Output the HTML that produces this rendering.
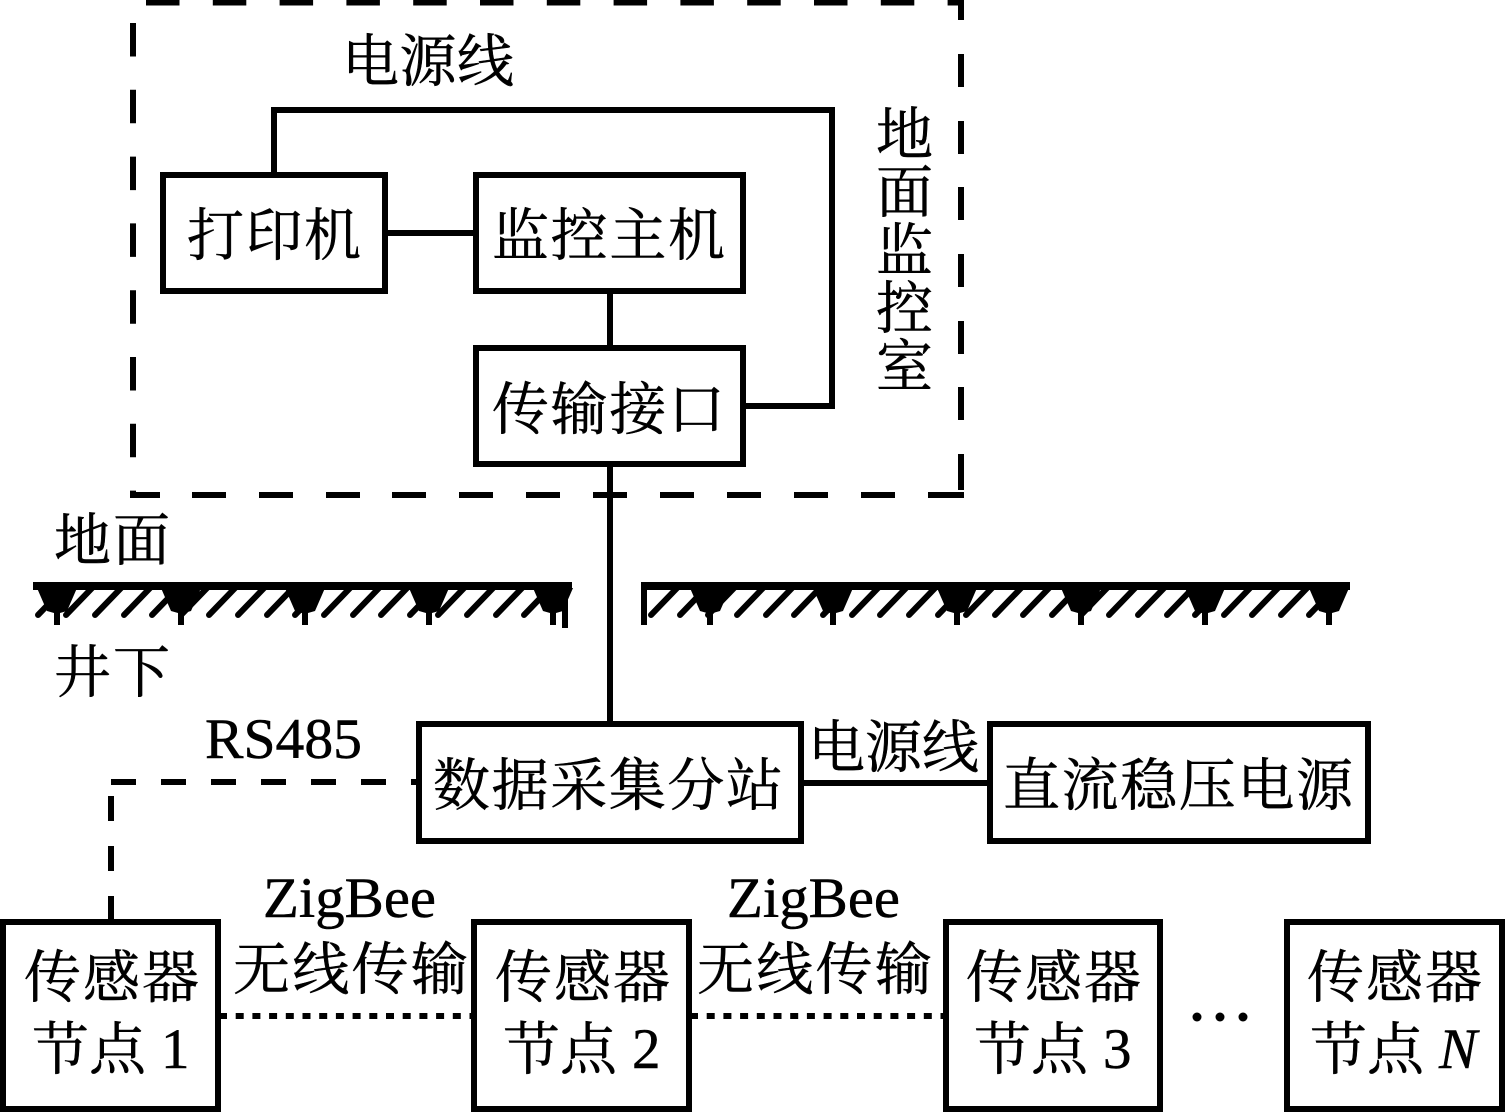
<!DOCTYPE html>
<html><head><meta charset="utf-8"><style>
html,body{margin:0;padding:0;background:#fff}
svg{display:block}
text{font-family:"Liberation Serif","Noto Serif CJK SC",serif;fill:#000;stroke:#000;stroke-width:.5;font-size:57px}
.l{fill:none;stroke:#000;stroke-width:6}
.b{fill:#fff;stroke:#000;stroke-width:6}
.h{stroke:#000;stroke-width:6;stroke-linecap:round}
</style></head><body>
<svg width="1505" height="1114" viewBox="0 0 1505 1114" xmlns="http://www.w3.org/2000/svg">
<!-- dashed room -->
<path class="l" d="M146 2.5H961" stroke-dasharray="33.5 33.3"/>
<path class="l" d="M133 23V492" stroke-dasharray="33.5 33.3"/>
<path class="l" d="M961 0V20M961 54V87M961 121V154M961 187V220M961 254V287M961 321V354M961 387V420M961 454V490"/>
<path class="l" d="M130 495H160M192 495H226M259 495H293M326 495H360M392 495H426M459 495H493M526 495H560M593 495H627M660 495H694M727 495H761M794 495H828M861 495H895M928 495H964"/>
<!-- connectors -->
<path class="l" d="M274 173V110H832V406H744"/>
<path class="l" d="M386 233H475M610 292V347M610 465V723M802 783H989"/>
<path class="l" d="M111 782H136M161 782H186M211 782H236M261 782H286M311 782H336M361 782H386M411 782H418"/>
<path class="l" d="M111 796V821M111 846V871M111 896V921"/>
<path class="l" d="M219 1016H473" stroke-dasharray="8 8.7"/>
<path class="l" d="M690 1016H945" stroke-dasharray="8 8.7"/>
<!-- boxes -->
<rect class="b" x="163" y="175" width="222" height="116"/>
<rect class="b" x="476" y="175" width="267" height="116"/>
<rect class="b" x="476" y="348" width="267" height="116"/>
<rect class="b" x="419" y="724" width="382" height="117"/>
<rect class="b" x="990" y="724" width="378" height="117"/>
<rect class="b" x="3" y="922" width="215" height="187"/>
<rect class="b" x="474" y="922" width="215" height="187"/>
<rect class="b" x="946" y="922" width="214" height="187"/>
<rect class="b" x="1287" y="922" width="215" height="187"/>
<!-- ground -->
<path d="M33 582H572V590H33Z"/>
<path d="M562 590h6v38h-6z"/>
<path d="M641 582H1350V590H641Z"/>
<path d="M641 590h6v35h-6z"/>
<g class="h">
<path d="M38 615L66 586M66 615L94 586M95 615L123 586M124 615L152 586M152 615L180 586M181 615L209 586M209 615L237 586M238 615L266 586M267 615L295 586M295 615L323 586M324 615L352 586M353 615L381 586M381 615L409 586M410 615L438 586M438 615L466 586M467 615L495 586M496 615L524 586M524 615L552 586"/>
<path d="M651 615L679 586M680 615L708 586M708 615L736 586M737 615L765 586M766 615L794 586M794 615L822 586M823 615L851 586M852 615L880 586M880 615L908 586M909 615L937 586M938 615L966 586M966 615L994 586M995 615L1023 586M1023 615L1051 586M1052 615L1080 586M1081 615L1109 586M1109 615L1137 586M1138 615L1166 586M1167 615L1195 586M1195 615L1223 586M1224 615L1252 586M1252 615L1280 586M1281 615L1309 586M1309 615L1337 586"/>
</g>
<g>
<path d="M37 588H77L67 611L60 613V625H54V613L47 611Z"/>
<path d="M161 588H201L191 611L184 613V625H178V613L171 611Z"/>
<path d="M285 588H325L315 611L308 613V625H302V613L295 611Z"/>
<path d="M409 588H449L439 611L432 613V625H426V613L419 611Z"/>
<path d="M533 588H573L563 611L556 613V625H550V613L543 611Z"/>
<path d="M690 588H730L720 611L713 613V625H707V613L700 611Z"/>
<path d="M813 588H853L843 611L836 613V625H830V613L823 611Z"/>
<path d="M937 588H977L967 611L960 613V625H954V613L947 611Z"/>
<path d="M1061 588H1101L1091 611L1084 613V625H1078V613L1071 611Z"/>
<path d="M1185 588H1225L1215 611L1208 613V625H1202V613L1195 611Z"/>
<path d="M1309 588H1349L1339 611L1332 613V625H1326V613L1319 611Z"/>
</g>
<!-- labels -->
<text x="342" y="81" textLength="172">电源线</text>
<text x="187" y="255" textLength="174">打印机</text>
<text x="492" y="255" textLength="233">监控主机</text>
<text x="492" y="429" textLength="233">传输接口</text>
<text x="876" y="154">地</text>
<text x="876" y="212">面</text>
<text x="876" y="270">监</text>
<text x="876" y="328">控</text>
<text x="876" y="386">室</text>
<text x="54" y="560" textLength="116">地面</text>
<text x="54" y="692" textLength="116">井下</text>
<text x="205" y="758" textLength="157" lengthAdjust="spacingAndGlyphs">RS485</text>
<text x="433" y="805" textLength="350">数据采集分站</text>
<text x="808" y="767" textLength="171">电源线</text>
<text x="1003" y="805" textLength="350">直流稳压电源</text>
<text x="263" y="917" textLength="173" lengthAdjust="spacingAndGlyphs">ZigBee</text>
<text x="727" y="917" textLength="173" lengthAdjust="spacingAndGlyphs">ZigBee</text>
<text x="233" y="989" textLength="235">无线传输</text>
<text x="697" y="989" textLength="235">无线传输</text>
<text x="24" y="997" textLength="175">传感器</text>
<text x="495" y="997" textLength="175">传感器</text>
<text x="966" y="997" textLength="175">传感器</text>
<text x="1307" y="997" textLength="175">传感器</text>
<text x="32" y="1069">节点</text><text x="161" y="1068">1</text>
<text x="503" y="1069">节点</text><text x="632" y="1068">2</text>
<text x="974" y="1069">节点</text><text x="1103" y="1068">3</text>
<text x="1310" y="1069">节点</text><text x="1439" y="1068" font-style="italic">N</text>
<circle cx="1197" cy="1017" r="4.5"/><circle cx="1220" cy="1017" r="4.5"/><circle cx="1243" cy="1017" r="4.5"/>
</svg>
</body></html>
